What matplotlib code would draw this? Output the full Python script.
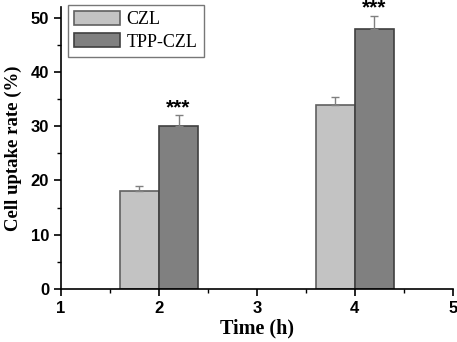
import matplotlib.pyplot as plt
from matplotlib.ticker import MultipleLocator

# --- data ---
times = [2, 4]
czl = [18, 34]
czl_err = [1, 1.3]
tpp = [30, 48]
tpp_err = [2, 2.4]
stars = ["***", "***"]

W = 0.4

fig = plt.figure(figsize=(4.57, 3.42), dpi=100)
ax = fig.add_axes([0.1335, 0.155, 0.857, 0.825])

ekw = dict(ecolor="#808080", elinewidth=1, capsize=3, capthick=1)
ax.bar([t - W / 2 for t in times], czl, W, yerr=[[0] * len(czl), czl_err],
       color="#c3c3c3", edgecolor="#606060", linewidth=1.2, label="CZL",
       error_kw=ekw)
ax.bar([t + W / 2 for t in times], tpp, W, yerr=[[0] * len(tpp), tpp_err],
       color="#808080", edgecolor="#404040", linewidth=1.2, label="TPP-CZL",
       error_kw=ekw)

for t, v, e, s in zip(times, tpp, tpp_err, stars):
    ax.text(t + W / 2, v + e + 0.4, s, ha="center", va="baseline",
            fontsize=15, fontweight="bold", family="Liberation Sans", clip_on=False)

ax.set_xlim(1, 5)
ax.set_ylim(0, 52)
ax.xaxis.set_major_locator(MultipleLocator(1))
ax.xaxis.set_minor_locator(MultipleLocator(0.5))
ax.yaxis.set_major_locator(MultipleLocator(10))
ax.yaxis.set_minor_locator(MultipleLocator(5))
ax.tick_params(which="major", direction="out", length=5, width=1.2)
ax.tick_params(which="minor", direction="out", length=3, width=1)
for lab in ax.get_xticklabels() + ax.get_yticklabels():
    lab.set_fontfamily("Liberation Sans")
    lab.set_fontweight("bold")
    lab.set_fontsize(12)

ax.spines["top"].set_visible(False)
ax.spines["right"].set_visible(False)
ax.spines["left"].set_linewidth(1.2)
ax.spines["bottom"].set_linewidth(1.2)

ax.set_xlabel("Time (h)", family="Liberation Serif", fontweight="bold", fontsize=14.5,
              labelpad=2)
ax.set_ylabel("Cell uptake rate (%)", family="Liberation Serif", fontweight="bold",
              fontsize=13.5, labelpad=6)

leg = ax.legend(loc="upper left", bbox_to_anchor=(0.018, 1.008), fancybox=False,
                prop=dict(family="Liberation Serif", size=13), handlelength=2.55,
                handleheight=0.8, handletextpad=0.35, borderpad=0.35,
                labelspacing=0.3, borderaxespad=0)
leg.get_frame().set_edgecolor("#555555")
leg.get_frame().set_linewidth(1)

fig.savefig("out.png", dpi=100)
